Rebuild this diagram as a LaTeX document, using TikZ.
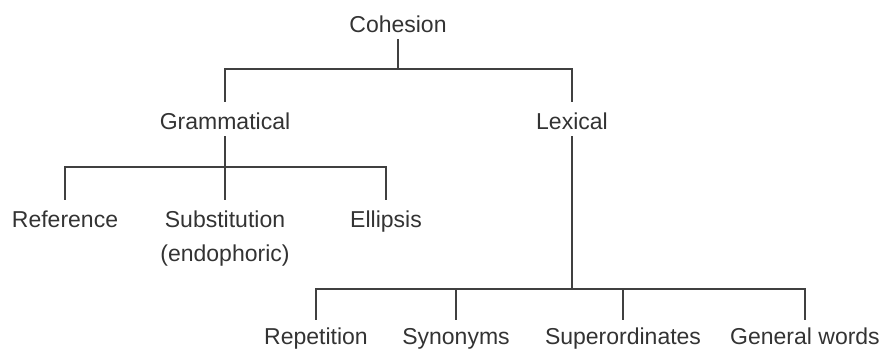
\documentclass[tikz,border=0pt]{standalone}
\usepackage{fontspec}
\setmainfont{Liberation Sans}
\definecolor{ink}{HTML}{333333}
\definecolor{linec}{HTML}{404040}
\begin{document}
\begin{tikzpicture}[x=1pt,y=-1pt,
  lbl/.style={anchor=base,inner sep=0pt,text height=27pt,text depth=7pt,
    font=\fontsize{23}{27}\selectfont,text=ink},
  low/.style={lbl,text height=24pt,text depth=4.5pt},
  conn/.style={draw=linec,line width=1.5pt}]
\useasboundingbox (0,0) rectangle (884,349);
\node[lbl] (coh) at (398,32) {Cohesion};
\node[lbl] (gram) at (225,129) {Grammatical};
\node[lbl] (lex) at (572,129) {Lexical};
\node[lbl] (ref) at (65,227) {Reference};
\node[lbl] (sub) at (225,227) {Substitution};
\node[lbl] (endo) at (225,261) {(endophoric)};
\node[lbl] (ell) at (386,227) {Ellipsis};
\node[low] (rep) at (316,344) {Repetition};
\node[low] (syn) at (456,344) {Synonyms};
\node[low] (sup) at (623,344) {Superordinates};
\node[low] (gen) at (805,344) {General words};
\coordinate (b1) at (398,69);
\coordinate (b2) at (225,167);
\coordinate (b3) at (572,289);
\draw[conn] (coh.south) -- (b1);
\draw[conn] (gram.north) |- (b1) -| (lex.north);
\draw[conn] (gram.south) -- (b2);
\draw[conn] (ref.north) |- (b2) -| (ell.north);
\draw[conn] (b2) -- (sub.north);
\draw[conn] (lex.south) -- (b3);
\draw[conn] (rep.north) |- (b3) -| (gen.north);
\draw[conn] (syn.north) -- (syn.north |- b3);
\draw[conn] (sup.north) -- (sup.north |- b3);
\end{tikzpicture}
\end{document}
